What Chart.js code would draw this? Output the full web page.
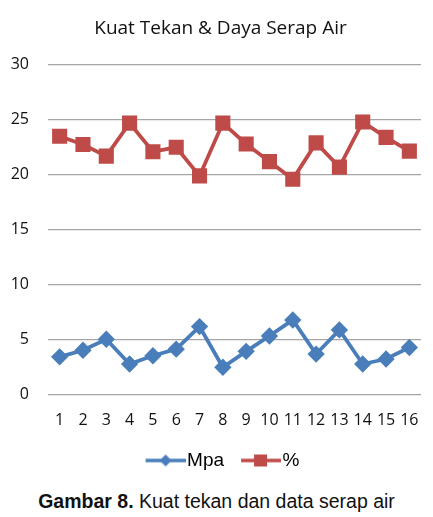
<!DOCTYPE html>
<html>
<head>
<meta charset="utf-8">
<script src="https://cdn.jsdelivr.net/npm/chart.js@4"></script>
<style>
  body { margin: 0; background: #fff; }
  #wrap { position: relative; width: 433px; height: 517px; }
  #box { position: absolute; left: 0; top: 0; width: 433px; height: 480px; }
  #caption {
    position: absolute; left: 0; top: 490px; width: 433px; text-align: center;
    font-family: "Liberation Sans", Arial, sans-serif; font-size: 19.5px; color: #111;
  }
</style>
</head>
<body>
<div id="wrap">
  <div id="box"><canvas id="chart" width="433" height="480"></canvas></div>
  <div id="caption"><b>Gambar 8.</b> Kuat tekan dan data serap air</div>
</div>
<script>
const labels = ['1','2','3','4','5','6','7','8','9','10','11','12','13','14','15','16'];
const mpa = [3.45, 4.05, 5.05, 2.8, 3.55, 4.15, 6.2, 2.5, 3.95, 5.35, 6.8, 3.7, 5.9, 2.8, 3.25, 4.3];
const persen = [23.5, 22.75, 21.7, 24.7, 22.1, 22.5, 19.9, 24.7, 22.8, 21.2, 19.6, 22.9, 20.7, 24.8, 23.4, 22.15];
const yTicks = [0, 5, 10, 15, 20, 25, 30];

const blue = '#4a7ebb';
const red = '#be4b48';
const tickFont = { family: 'Open Sans', size: 16 };

// small canvas with line + marker, used as legend symbol
// (line sits in the right part so the text follows it closely)
function legendIcon(color, style) {
  const c = document.createElement('canvas');
  c.width = 52; c.height = 14;
  const g = c.getContext('2d');
  g.strokeStyle = color; g.lineWidth = 3.5;
  g.beginPath(); g.moveTo(12, 7); g.lineTo(52, 7); g.stroke();
  g.fillStyle = color;
  if (style === 'rect') {
    g.fillRect(25, 1, 13, 12);
  } else {
    g.beginPath(); g.moveTo(32, 1); g.lineTo(38, 7); g.lineTo(32, 13); g.lineTo(26, 7); g.closePath(); g.fill();
  }
  return c;
}
const icons = [legendIcon(blue, 'rectRot'), legendIcon(red, 'rect')];

// title and legend sit a little right of the canvas centre in the original
const shiftBoxes = {
  id: 'shiftBoxes',
  afterLayout(chart) {
    [chart.titleBlock, chart.legend].forEach(b => {
      if (b) { b.left += 10; b.right += 10; }
    });
  }
};

new Chart(document.getElementById('chart'), {
  type: 'line',
  data: {
    labels: labels,
    datasets: [
      {
        label: 'Mpa', data: mpa, borderColor: blue, backgroundColor: blue,
        borderWidth: 3.8, pointStyle: 'rectRot', pointRadius: 6, pointHoverRadius: 6, tension: 0
      },
      {
        label: '%', data: persen, borderColor: red, backgroundColor: red,
        borderWidth: 3.8, pointStyle: 'rect', pointRadius: 8, pointHoverRadius: 8, tension: 0
      }
    ]
  },
  plugins: [shiftBoxes],
  options: {
    responsive: false,
    animation: false,
    layout: { padding: { left: 0, right: 12, top: 0, bottom: 0 } },
    plugins: {
      title: {
        display: true, text: 'Kuat Tekan & Daya Serap Air', color: '#111',
        font: { family: 'Open Sans', size: 19, weight: 'normal' },
        padding: { top: 17, bottom: 25 }
      },
      legend: {
        position: 'bottom',
        labels: {
          usePointStyle: true, pointStyleWidth: 36, color: '#111',
          font: { family: 'Liberation Sans', size: 19 }, padding: 13,
          generateLabels: chart => chart.data.datasets.map((ds, i) => ({
            text: ds.label, pointStyle: icons[i], fillStyle: ds.borderColor,
            strokeStyle: ds.borderColor, lineWidth: 0, datasetIndex: i, hidden: false
          }))
        }
      },
      tooltip: { enabled: false }
    },
    scales: {
      x: {
        offset: true,
        grid: { display: false },
        border: { display: false },
        ticks: { color: '#111', font: tickFont, padding: 8, maxRotation: 0, autoSkip: false }
      },
      y: {
        min: 0, max: 30,
        afterBuildTicks: s => { s.ticks = yTicks.map(v => ({ value: v })); },
        afterFit: s => { s.width = 48; },
        grid: { color: '#a6a6a6', lineWidth: 1.3, drawTicks: false },
        border: { display: false },
        ticks: { color: '#111', font: tickFont, padding: 19 }
      }
    }
  }
});
</script>
</body>
</html>
